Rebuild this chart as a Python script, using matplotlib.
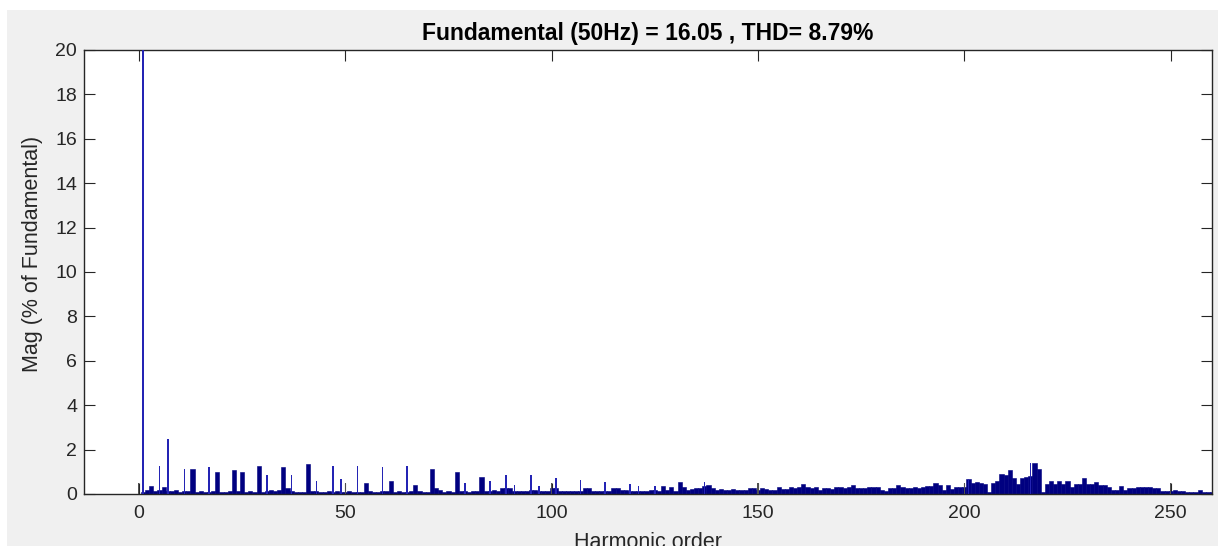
import numpy as np
import matplotlib
matplotlib.use("Agg")
import matplotlib.pyplot as plt
from matplotlib.patches import Rectangle

# Harmonic spectrum, magnitude in % of fundamental, one bin per harmonic order 0..260
orders = np.arange(0, 261)
floor_mag = [
    0.00, 0.10, 0.20, 0.35, 0.15, 0.20, 0.30, 0.15, 0.15, 0.20,   # 0-9
    0.10, 0.12, 0.15, 1.12, 0.10, 0.12, 0.10, 0.10, 0.15, 1.00,   # 10-19
    0.10, 0.10, 0.12, 1.07, 0.15, 1.00, 0.10, 0.15, 0.10, 1.27,   # 20-29
    0.10, 0.12, 0.20, 0.15, 0.20, 1.20, 0.25, 0.12, 0.10, 0.10,   # 30-39
    0.10, 1.35, 0.15, 0.12, 0.10, 0.10, 0.12, 0.10, 0.15, 0.10,   # 40-49
    0.10, 0.12, 0.10, 0.10, 0.10, 0.50, 0.15, 0.10, 0.10, 0.12,   # 50-59
    0.15, 0.58, 0.10, 0.12, 0.10, 0.10, 0.15, 0.40, 0.15, 0.10,   # 60-69
    0.10, 1.12, 0.25, 0.20, 0.10, 0.12, 0.10, 1.00, 0.12, 0.15,   # 70-79
    0.10, 0.12, 0.12, 0.78, 0.12, 0.12, 0.20, 0.12, 0.25, 0.25,   # 80-89
    0.25, 0.15, 0.15, 0.12, 0.12, 0.20, 0.20, 0.12, 0.12, 0.12,   # 90-99
    0.25, 0.25, 0.15, 0.15, 0.15, 0.15, 0.12, 0.12, 0.27, 0.27,   # 100-109
    0.15, 0.15, 0.15, 0.12, 0.12, 0.27, 0.27, 0.20, 0.20, 0.15,   # 110-119
    0.15, 0.15, 0.15, 0.12, 0.20, 0.20, 0.15, 0.35, 0.20, 0.30,   # 120-129
    0.15, 0.55, 0.30, 0.20, 0.22, 0.25, 0.25, 0.35, 0.40, 0.25,   # 130-139
    0.20, 0.22, 0.20, 0.20, 0.22, 0.18, 0.18, 0.20, 0.25, 0.25,   # 140-149
    0.20, 0.28, 0.22, 0.20, 0.20, 0.30, 0.22, 0.22, 0.30, 0.25,   # 150-159
    0.30, 0.45, 0.30, 0.28, 0.30, 0.20, 0.28, 0.25, 0.22, 0.30,   # 160-169
    0.30, 0.28, 0.30, 0.40, 0.28, 0.28, 0.25, 0.33, 0.33, 0.30,   # 170-179
    0.20, 0.15, 0.28, 0.28, 0.40, 0.30, 0.25, 0.25, 0.33, 0.25,   # 180-189
    0.30, 0.35, 0.35, 0.50, 0.41, 0.19, 0.41, 0.23, 0.32, 0.32,   # 190-199
    0.32, 0.68, 0.50, 0.56, 0.50, 0.45, 0.08, 0.50, 0.59, 0.89,   # 200-209
    0.85, 1.06, 0.74, 0.45, 0.74, 0.75, 0.83, 1.38, 1.13, 0.08,   # 210-219
    0.45, 0.57, 0.45, 0.57, 0.45, 0.57, 0.30, 0.45, 0.45, 0.70,   # 220-229
    0.45, 0.45, 0.55, 0.40, 0.40, 0.30, 0.20, 0.20, 0.35, 0.20,   # 230-239
    0.25, 0.25, 0.30, 0.32, 0.30, 0.30, 0.25, 0.25, 0.15, 0.15,   # 240-249
    0.12, 0.18, 0.12, 0.12, 0.10, 0.10, 0.10, 0.18, 0.10, 0.10,   # 250-259
    0.10,                                                          # 260
]

# Narrow spectral lines
line_orders = [1, 5, 7, 11, 17, 31, 37, 43, 47, 49, 53, 59, 65, 79, 85,
               89, 91, 95, 97, 101, 107, 113, 119, 121, 125, 137, 201, 216]
line_mag = [100.0, 1.27, 2.50, 1.12, 1.20, 0.85, 0.85, 0.58, 1.27, 0.66,
            1.27, 1.20, 1.27, 0.50, 0.58, 0.85, 0.40, 0.85, 0.35, 0.70,
            0.62, 0.55, 0.45, 0.35, 0.35, 0.55, 0.68, 1.38]

# DC and interharmonic components drawn in grey
grey_orders = [0, 50, 100, 150, 200, 250]
grey_mag = [0.50, 0.50, 0.50, 0.50, 0.50, 0.50]

title_text = "Fundamental (50Hz) = 16.05 , THD= 8.79%"
x_ticks = [0, 50, 100, 150, 200, 250]
y_ticks = [0, 2, 4, 6, 8, 10, 12, 14, 16, 18, 20]

plt.rcParams['font.family'] = ['Liberation Sans', 'DejaVu Sans']

W, H = 1218, 546
fig = plt.figure(figsize=(W / 100, H / 100), dpi=100)
fig.patch.set_facecolor('white')
fig.patches.append(Rectangle((7 / W, 0), 1 - 7 / W, (H - 10) / H,
                             transform=fig.transFigure, facecolor='#f0f0f0',
                             edgecolor='none', zorder=-10))

ax = fig.add_axes([84 / W, 52 / H, 1128 / W, 444 / H])
ax.set_facecolor('white')

navy = '#000080'
ax.bar(orders, floor_mag, width=1.0, color=navy, edgecolor=navy,
       linewidth=0.4, zorder=2)
ax.bar(line_orders, line_mag, width=0.38, color='#2424b4', edgecolor='none',
       linewidth=0, zorder=3)
ax.bar(grey_orders, grey_mag, width=0.28, color='#505050', edgecolor='none',
       linewidth=0, zorder=3)

ax.set_xlim(-13.3, 260)
ax.set_ylim(0, 20)
ax.set_xticks(x_ticks)
ax.set_yticks(y_ticks)

text_col = '#262626'
ax.tick_params(direction='in', length=8, width=0.8, top=True, right=True,
               colors=text_col, labelsize=14)
ax.tick_params(axis='y', pad=5)
ax.tick_params(axis='x', pad=8)
for s in ax.spines.values():
    s.set_color(text_col)
    s.set_linewidth(1.0)

ax.set_title(title_text, fontsize=16.5, fontweight='bold', color='black', pad=7)
ax.set_xlabel('Harmonic order', fontsize=15.5, color=text_col, labelpad=7)
ax.set_ylabel('Mag (% of Fundamental)', fontsize=15.5, color=text_col)
ax.yaxis.set_label_coords(-0.0365, 0.54)

fig.savefig('out.png', dpi=100, facecolor=fig.get_facecolor())
